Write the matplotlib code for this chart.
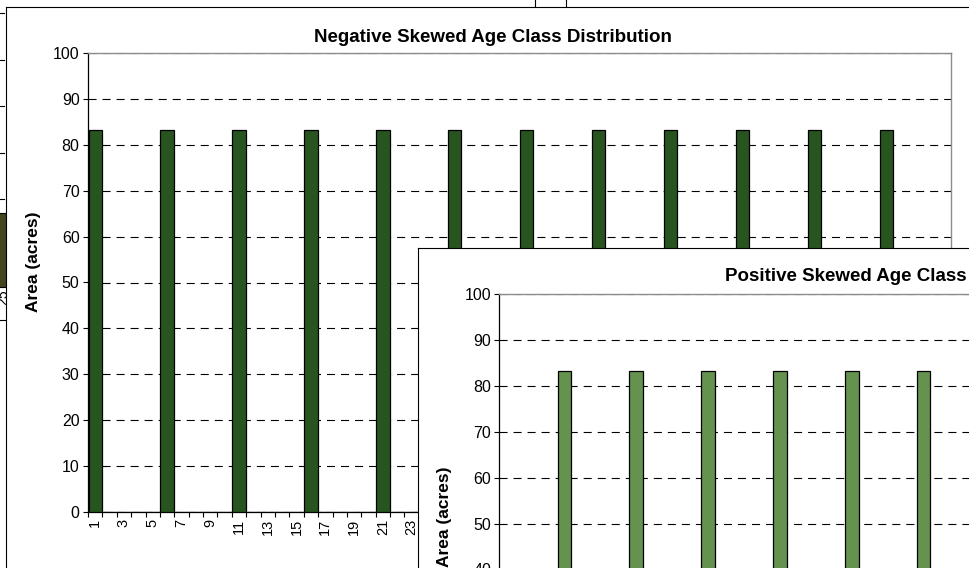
import matplotlib
matplotlib.use('Agg')
import matplotlib.pyplot as plt
from matplotlib.patches import Rectangle

plt.rcParams['font.family'] = ['Liberation Sans', 'DejaVu Sans']
plt.rcParams['lines.scale_dashes'] = False

# --- data ---------------------------------------------------------------
AGE_CLASS = list(range(1, 61))
NEG_AREA = [83.33, 0, 0, 0, 0, 83.33, 0, 0, 0, 0,
            83.33, 0, 0, 0, 0, 83.33, 0, 0, 0, 0,
            83.33, 0, 0, 0, 0, 83.33, 0, 0, 0, 0,
            83.33, 0, 0, 0, 0, 83.33, 0, 0, 0, 0,
            83.33, 0, 0, 0, 0, 83.33, 0, 0, 0, 0,
            83.33, 0, 0, 0, 0, 83.33, 0, 0, 0, 0]
POS_AREA = [0, 0, 0, 0, 83.33, 0, 0, 0, 0, 83.33,
            0, 0, 0, 0, 83.33, 0, 0, 0, 0, 83.33,
            0, 0, 0, 0, 83.33, 0, 0, 0, 0, 83.33,
            0, 0, 0, 0, 83.33, 0, 0, 0, 0, 83.33,
            0, 0, 0, 0, 83.33, 0, 0, 0, 0, 83.33,
            0, 0, 0, 0, 83.33, 0, 0, 0, 0, 83.33]
Y_TICKS = [0, 10, 20, 30, 40, 50, 60, 70, 80, 90, 100]
NEG_TITLE = 'Negative Skewed Age Class Distribution'
POS_TITLE = 'Positive Skewed Age Class Distribution'
Y_LABEL = 'Area (acres)'

W, H = 969, 568
fig = plt.figure(figsize=(W / 100, H / 100), dpi=100)


def px_rect(left, top, right, bottom):
    return [left / W, 1 - bottom / H, (right - left) / W, (bottom - top) / H]


# background: bits of another chart peeking out behind the main one
bg = fig.add_axes([0, 0, 1, 1], zorder=0)
bg.set_xlim(0, W)
bg.set_ylim(H, 0)
bg.axis('off')
for yy in [13, 60, 106, 153, 199]:
    bg.plot([0, 4], [yy, yy], color='black', lw=0.8)
bg.add_patch(Rectangle((-2, 213), 10, 74, facecolor='#45441f', edgecolor='black', lw=0.8))
bg.plot([0, 7], [320, 320], color='black', lw=0.8)
bg.text(3, 297, '25', rotation=90, ha='center', va='center', fontsize=10)
for xx in [535, 566]:
    bg.plot([xx, xx], [0, 8], color='black', lw=0.8)


def chart_frame(left, top, z):
    fr = fig.add_axes(px_rect(left, top, left + 1200, top + 800), zorder=z)
    fr.set_xticks([])
    fr.set_yticks([])
    fr.set_facecolor('white')
    for s in fr.spines.values():
        s.set_color('black')
        s.set_linewidth(0.8)
    return fr


def draw_chart(ax, values, color, title, title_xy, ylabel_xy):
    ax.bar(AGE_CLASS, values, width=0.93, color=color, edgecolor='black',
           linewidth=0.9, zorder=3)
    ax.set_xlim(0.5, 60.5)
    ax.set_ylim(0, 100)
    ax.set_yticks(Y_TICKS)
    ax.set_yticklabels([str(t) for t in Y_TICKS], fontsize=11.5)
    ax.yaxis.grid(True, color='black', linestyle=(0, (5.8, 4.3)), linewidth=0.8)
    ax.set_axisbelow(True)
    ax.set_xticks([c for c in AGE_CLASS if c % 2 == 1])
    ax.set_xticklabels([str(c) for c in AGE_CLASS if c % 2 == 1],
                       rotation=90, fontsize=10.5)
    ax.set_xticks([c + 0.5 for c in [0] + AGE_CLASS], minor=True)
    ax.tick_params(axis='x', which='major', length=0, pad=5)
    ax.tick_params(axis='x', which='minor', length=3.6, width=0.8, direction='out')
    ax.tick_params(axis='y', length=3.6, width=0.8, pad=2.5)
    for s in ['left', 'bottom']:
        ax.spines[s].set_color('black')
        ax.spines[s].set_linewidth(0.9)
    for s in ['top', 'right']:
        ax.spines[s].set_color('#8c8c8c')
        ax.spines[s].set_linewidth(1.0)
    ax.set_ylabel(Y_LABEL, fontsize=12.5, fontweight='bold')
    ax.yaxis.set_label_coords(*ylabel_xy)
    ax.text(title_xy[0], title_xy[1], title, transform=ax.transAxes,
            ha='center', va='baseline', fontsize=13.5, fontweight='bold')


# main chart
chart_frame(6, 7, 1)
ax1 = fig.add_axes(px_rect(88, 53.3, 951, 511.7), zorder=2)
draw_chart(ax1, NEG_AREA, '#28541f', NEG_TITLE, (0.4687, 1.0247), (-0.0545, 0.545))

# second chart pasted over the lower right
chart_frame(418, 248, 3)
ax2 = fig.add_axes(px_rect(499.5, 294.3, 1362.5, 752.7), zorder=4)
draw_chart(ax2, POS_AREA, '#65934f', POS_TITLE, (0.465, 1.029), (-0.0545, 0.514))

fig.savefig('out.png', dpi=100)
